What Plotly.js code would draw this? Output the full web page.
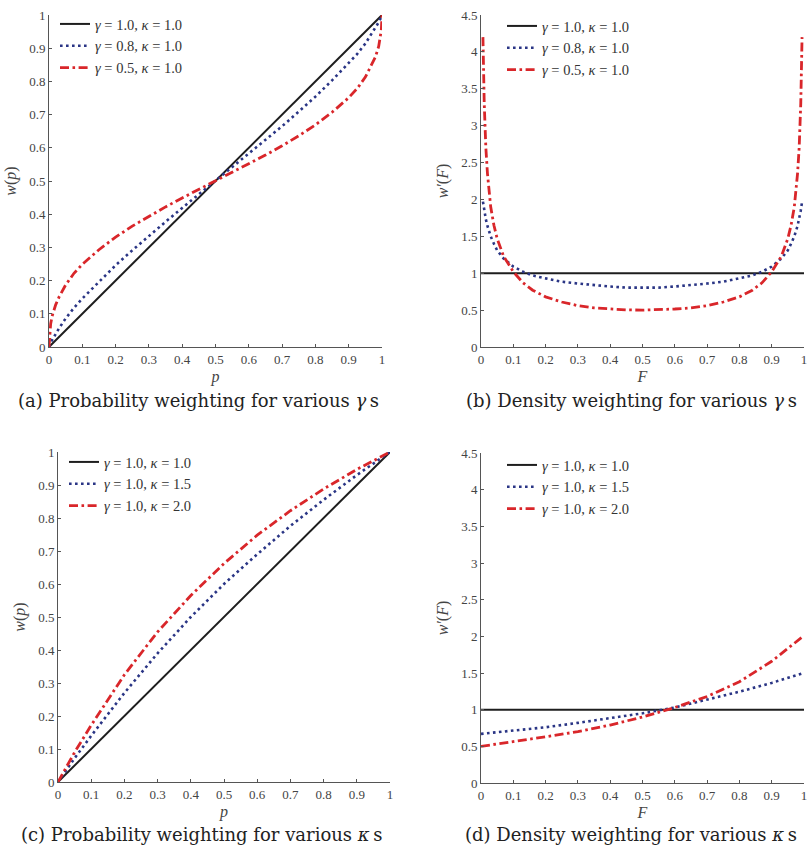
<!DOCTYPE html>
<html>
<head>
<meta charset="utf-8">
<script src="https://cdn.plot.ly/plotly-3.0.1.min.js"></script>
<style>html,body{margin:0;padding:0;background:#fff;}#chart{width:810px;height:847px;}</style>
</head>
<body>
<div id="chart"></div>
<script>
// ---------- data ----------
// (a) probability weighting, various gamma
const pA = [0, 0.002, 0.005, 0.01, 0.02, 0.03, 0.05, 0.075, 0.1, 0.15, 0.2, 0.25, 0.3, 0.35, 0.4, 0.45, 0.5,
            0.55, 0.6, 0.65, 0.7, 0.75, 0.8, 0.85, 0.9, 0.925, 0.95, 0.97, 0.98, 0.99, 0.995, 0.998, 1];
const wA_g10 = [0, 0.002, 0.005, 0.01, 0.02, 0.03, 0.05, 0.075, 0.1, 0.15, 0.2, 0.25, 0.3, 0.35, 0.4, 0.45, 0.5,
                0.55, 0.6, 0.65, 0.7, 0.75, 0.8, 0.85, 0.9, 0.925, 0.95, 0.97, 0.98, 0.99, 0.995, 0.998, 1];
const wA_g08 = [0, 0.006, 0.012, 0.022, 0.04, 0.056, 0.086, 0.118, 0.146, 0.197, 0.246, 0.291, 0.335, 0.377, 0.419, 0.46, 0.5,
                0.54, 0.581, 0.623, 0.665, 0.709, 0.754, 0.803, 0.854, 0.882, 0.914, 0.944, 0.96, 0.978, 0.988, 0.994, 1];
const wA_g05 = [0, 0.045, 0.07, 0.095, 0.127, 0.15, 0.187, 0.222, 0.249, 0.293, 0.331, 0.364, 0.394, 0.422, 0.449, 0.475, 0.5,
                0.525, 0.551, 0.578, 0.606, 0.636, 0.669, 0.707, 0.751, 0.778, 0.813, 0.85, 0.873, 0.905, 0.93, 0.955, 1];

// (b) density weighting, various gamma
const fB = [0.006, 0.01, 0.015, 0.02, 0.03, 0.04, 0.05, 0.07, 0.1, 0.13, 0.16, 0.2, 0.25, 0.3, 0.35, 0.4, 0.45, 0.5,
            0.55, 0.6, 0.65, 0.7, 0.75, 0.8, 0.84, 0.87, 0.9, 0.93, 0.95, 0.96, 0.97, 0.98, 0.985, 0.99, 0.994];
const fB_flat = [0, 1];
const dB_g10 = [1, 1];
const dB_g08 = [1.97, 1.85, 1.73, 1.64, 1.5, 1.4, 1.31, 1.2, 1.09, 1.02, 0.97, 0.93, 0.885, 0.86, 0.835, 0.82, 0.805, 0.8,
                0.805, 0.82, 0.835, 0.86, 0.885, 0.93, 0.97, 1.02, 1.09, 1.2, 1.31, 1.4, 1.5, 1.64, 1.73, 1.85, 1.97];
const dB_g05 = [4.2, 3.3, 2.7, 2.35, 1.9, 1.65, 1.47, 1.23, 1.02, 0.87, 0.77, 0.68, 0.61, 0.56, 0.53, 0.515, 0.503, 0.5,
                0.503, 0.515, 0.53, 0.56, 0.61, 0.68, 0.77, 0.87, 1.02, 1.23, 1.47, 1.65, 1.9, 2.35, 2.7, 3.3, 4.2];

// (c) probability weighting, various kappa
const pC = [0, 0.05, 0.1, 0.2, 0.3, 0.4, 0.5, 0.6, 0.7, 0.8, 0.9, 0.95, 1];
const wC_k10 = [0, 0.05, 0.1, 0.2, 0.3, 0.4, 0.5, 0.6, 0.7, 0.8, 0.9, 0.95, 1];
const wC_k15 = [0, 0.072, 0.14, 0.27, 0.39, 0.5, 0.6, 0.69, 0.776, 0.855, 0.93, 0.965, 1];
const wC_k20 = [0, 0.09, 0.172, 0.325, 0.455, 0.565, 0.662, 0.748, 0.822, 0.888, 0.947, 0.974, 1];

// (d) density weighting, various kappa
const fD = [0, 0.1, 0.2, 0.3, 0.4, 0.5, 0.6, 0.7, 0.8, 0.9, 1];
const dD_k10 = [1, 1, 1, 1, 1, 1, 1, 1, 1, 1, 1];
const dD_k15 = [0.67, 0.715, 0.76, 0.82, 0.885, 0.95, 1.03, 1.135, 1.245, 1.365, 1.5];
const dD_k20 = [0.5, 0.56, 0.63, 0.7, 0.79, 0.9, 1.03, 1.18, 1.38, 1.66, 2.01];

const tickVals01 = [0, 0.1, 0.2, 0.3, 0.4, 0.5, 0.6, 0.7, 0.8, 0.9, 1];
const tickText01 = ['0', '0.1', '0.2', '0.3', '0.4', '0.5', '0.6', '0.7', '0.8', '0.9', '1'];
const tickVals45 = [0, 0.5, 1, 1.5, 2, 2.5, 3, 3.5, 4, 4.5];
const tickText45 = ['0', '0.5', '1', '1.5', '2', '2.5', '3', '3.5', '4', '4.5'];

const namesGamma = ['<i>γ</i> = 1.0, <i>κ</i> = 1.0', '<i>γ</i> = 0.8, <i>κ</i> = 1.0', '<i>γ</i> = 0.5, <i>κ</i> = 1.0'];
const namesKappa = ['<i>γ</i> = 1.0, <i>κ</i> = 1.0', '<i>γ</i> = 1.0, <i>κ</i> = 1.5', '<i>γ</i> = 1.0, <i>κ</i> = 2.0'];
const captions = ['(a) Probability weighting for various <i>γ</i>\u2009s',
                  '(b) Density weighting for various <i>γ</i>\u2009s',
                  '(c) Probability weighting for various <i>κ</i>\u2009s',
                  '(d) Density weighting for various <i>κ</i>\u2009s'];

// ---------- styles ----------
const W = 810, H = 847;
const BLACK = '#1e1e1e', BLUE = '#2a3585', RED = '#d9262a';
const sBlack = {color: BLACK, width: 2, dash: 'solid'};
const sBlue = {color: BLUE, width: 2.6, dash: '2.6px,3.4px'};
const sRed = {color: RED, width: 2.8, dash: '9px,3.5px,2.6px,3.5px'};
const SERIF = 'Liberation Serif, Times New Roman, serif';
const CAPFONT = 'DejaVu Serif, serif';

function tr(x, y, name, line, xa, ya, leg) {
  return {x: x, y: y, name: name, type: 'scatter', mode: 'lines', line: line,
          xaxis: xa, yaxis: ya, legend: leg, hoverinfo: 'skip'};
}

const data = [
  tr([pA[0], pA[pA.length-1]], [wA_g10[0], wA_g10[wA_g10.length-1]], namesGamma[0], sBlack, 'x', 'y', 'legend'),
  tr(pA, wA_g08, namesGamma[1], sBlue, 'x', 'y', 'legend'),
  tr(pA, wA_g05, namesGamma[2], sRed, 'x', 'y', 'legend'),
  tr(fB_flat, dB_g10, namesGamma[0], sBlack, 'x2', 'y2', 'legend2'),
  tr(fB, dB_g08, namesGamma[1], sBlue, 'x2', 'y2', 'legend2'),
  tr(fB, dB_g05, namesGamma[2], sRed, 'x2', 'y2', 'legend2'),
  tr(pC, wC_k10, namesKappa[0], sBlack, 'x3', 'y3', 'legend3'),
  tr(pC, wC_k15, namesKappa[1], sBlue, 'x3', 'y3', 'legend3'),
  tr(pC, wC_k20, namesKappa[2], sRed, 'x3', 'y3', 'legend3'),
  tr(fD, dD_k10, namesKappa[0], sBlack, 'x4', 'y4', 'legend4'),
  tr(fD, dD_k15, namesKappa[1], sBlue, 'x4', 'y4', 'legend4'),
  tr(fD, dD_k20, namesKappa[2], sRed, 'x4', 'y4', 'legend4')
];

// panel boxes in pixels: [left, right, top, bottom]
const boxes = [[49, 382, 15, 347], [481, 804, 15, 347], [58, 390, 452, 782], [481, 804, 453, 783]];
const xd = b => [b[0] / W, b[1] / W];
const yd = b => [1 - b[3] / H, 1 - b[2] / H];

function xax(b, title) {
  return {domain: xd(b), range: [0, 1], tickvals: tickVals01, ticktext: tickText01,
    showline: true, linecolor: '#555', linewidth: 1, ticks: 'inside', ticklen: 3, tickcolor: '#555',
    showgrid: false, zeroline: false, fixedrange: true, ticklabeloverflow: 'allow',
    tickfont: {family: SERIF, size: 13, color: '#444'},
    title: {text: title, font: {family: SERIF, size: 16, color: '#444'}, standoff: 5}};
}
function yax(b, max, tv, tt, title, anchor) {
  return {domain: yd(b), range: [0, max], tickvals: tv, ticktext: tt,
    showline: true, linecolor: '#555', linewidth: 1, ticks: 'inside', ticklen: 3, tickcolor: '#555',
    showgrid: false, zeroline: false, fixedrange: true, anchor: anchor, ticklabeloverflow: 'allow',
    tickfont: {family: SERIF, size: 13, color: '#444'},
    title: {text: title, font: {family: SERIF, size: 16, color: '#444'}, standoff: 8}};
}
function leg(xpx, ypx) {
  return {x: xpx / W, y: 1 - ypx / H, xanchor: 'left', yanchor: 'top', bgcolor: 'rgba(0,0,0,0)',
    font: {family: SERIF, size: 14.5, color: '#333'}, itemwidth: 30, tracegroupgap: 0,
    itemclick: false, itemdoubleclick: false};
}

const layout = {
  width: W, height: H, margin: {l: 0, r: 0, t: 0, b: 0},
  paper_bgcolor: '#fff', plot_bgcolor: '#fff',
  xaxis: Object.assign(xax(boxes[0], '<i>p</i>'), {anchor: 'y'}),
  yaxis: yax(boxes[0], 1, tickVals01, tickText01, '<i>w</i>(<i>p</i>)', 'x'),
  xaxis2: Object.assign(xax(boxes[1], '<i>F</i>'), {anchor: 'y2'}),
  yaxis2: yax(boxes[1], 4.5, tickVals45, tickText45, '<i>w′</i>(<i>F</i>)', 'x2'),
  xaxis3: Object.assign(xax(boxes[2], '<i>p</i>'), {anchor: 'y3'}),
  yaxis3: yax(boxes[2], 1, tickVals01, tickText01, '<i>w</i>(<i>p</i>)', 'x3'),
  xaxis4: Object.assign(xax(boxes[3], '<i>F</i>'), {anchor: 'y4'}),
  yaxis4: yax(boxes[3], 4.5, tickVals45, tickText45, '<i>w′</i>(<i>F</i>)', 'x4'),
  legend: leg(55, 8),
  legend2: leg(502, 10),
  legend3: leg(64, 446),
  legend4: leg(502, 449),
  showlegend: true,
  annotations: [
    {text: captions[0], x: 198 / W, y: 1 - 401 / H},
    {text: captions[1], x: 631 / W, y: 1 - 401 / H},
    {text: captions[2], x: 201 / W, y: 1 - 834 / H},
    {text: captions[3], x: 631 / W, y: 1 - 834 / H}
  ].map(a => Object.assign(a, {xref: 'paper', yref: 'paper', xanchor: 'center', yanchor: 'middle',
        showarrow: false, font: {family: CAPFONT, size: 18, color: '#222'}}))
};

Plotly.newPlot('chart', data, layout, {staticPlot: true, displayModeBar: false});
</script>
</body>
</html>
